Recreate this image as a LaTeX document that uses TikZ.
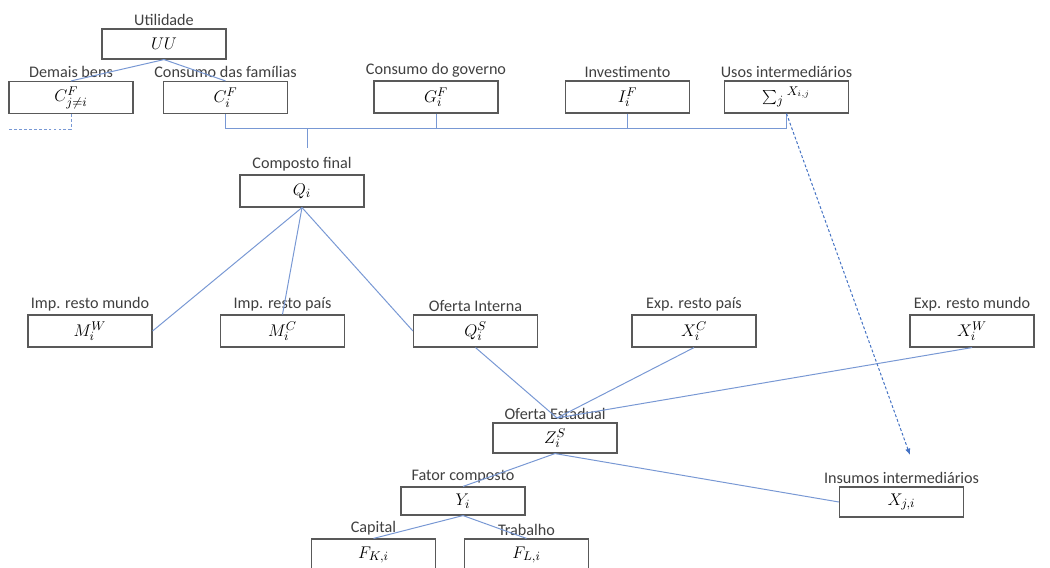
\documentclass[tikz,border=0pt]{standalone}
\usepackage{fontspec}
\setmainfont{Carlito}
\usetikzlibrary{arrows.meta}
\definecolor{linkblue}{RGB}{120,152,212}
\definecolor{dashblue}{RGB}{68,114,196}
\definecolor{boxgray}{RGB}{89,89,89}
\tikzset{%
  >={Latex[width=1.3mm,length=1.6mm]},
  % Specifications for style of nodes:
          varbox/.style = {rectangle, draw=boxgray, line width=0.8pt,
                           minimum width=3.1cm, minimum height=0.8cm,
                           inner sep=0pt, text centered,
                           font=\fontsize{13}{15}\selectfont},
         caption/.style = {font=\fontsize{11.5}{13}\selectfont,
                           text=black!75, inner sep=1pt},
            link/.style = {draw=linkblue, line width=0.7pt},
        dashlink/.style = {link, dash pattern=on 2pt off 1.5pt},
}

\begin{document}
\begin{tikzpicture}[x=0.025cm, y=-0.025cm, label distance=1pt,
    every label/.style={caption}]
  \useasboundingbox[fill=white] (0,0) rectangle (1050,567);
  \clip (0,0) rectangle (1050,567);
  % Specification of nodes (position, etc.)
  \node (uu)  [varbox, minimum height=0.75cm, label=above:Utilidade] at (164,44) {$UU$};
  \node (cj)  [varbox, label=above:Demais bens]          at (71,97.5)   {$C_{j\neq i}^F$};
  \node (ci)  [varbox, label=above:Consumo das famílias] at (225.5,97.5) {$C_i^F$};
  \node (gov) [varbox, label=above:Consumo do governo]   at (436,97)    {$G_i^F$};
  \node (inv) [varbox, label=above:Investimento]         at (627.5,97)  {$I_i^F$};
  \node (usos)[varbox, label=above:Usos intermediários]  at (786.5,97)  {$\sum_j{}^{X_{i,j}}$};
  \node (q)   [varbox, label=above:Composto final]       at (302,191)   {$Q_i$};
  \node (mw)  [varbox, label=above:Imp. resto mundo]     at (90,331)    {$M_i^W$};
  \node (mc)  [varbox, label=above:Imp. resto país]      at (282.5,331) {$M_i^C$};
  \node (qs)  [varbox, label=above:Oferta Interna]       at (475.5,331) {$Q_i^S$};
  \node (xc)  [varbox, label=above:Exp. resto país]      at (694,331)   {$X_i^C$};
  \node (xw)  [varbox, label=above:Exp. resto mundo]     at (972,331)   {$X_i^W$};
  \node (zs)  [varbox, minimum height=0.75cm, label=above:Oferta Estadual] at (555,438) {$Z_i^S$};
  \node (y)   [varbox, minimum height=0.7cm, label=above:Fator composto]   at (463,501) {$Y_i$};
  \node (xji) [varbox, minimum height=0.75cm,
               label=above:Insumos intermediários]       at (901.5,502) {$X_{j,i}$};
  \node (fk)  [varbox, label=above:Capital]              at (373.5,555) {$F_{K,i}$};
  \node (fl)  [varbox, label=above:Trabalho]             at (526.5,555) {$F_{L,i}$};
  % free ends of the connectors
  \coordinate (bus)   at (0,128);
  \coordinate (qtop)  at (307,148);
  \coordinate (other) at (8,129);
  \coordinate (zjoin) at (557,418);
  \coordinate (tip)   at (910,455);
  % Specification of lines between nodes specified above
  \draw[link] (uu.south) -- (cj.north);
  \draw[link] (uu.south) -- (ci.north);
  \draw[dashlink] (cj.south) |- (other);
  \draw[link] (ci.south) |- (usos.south |- bus) -- (usos.south);
  \draw[link] (gov.south) -- (gov.south |- bus);
  \draw[link] (inv.south) -- (inv.south |- bus);
  \draw[link] (qtop |- bus) -- (qtop);
  \draw[link] (q.south) -- (mw.east);
  \draw[link] (q.south) -- (mc.north);
  \draw[link] (q.south) -- (qs.west);
  \draw[link] (qs.south) -- (zjoin);
  \draw[link] (xc.south) -- (zjoin);
  \draw[link] (xw.south) -- (zjoin);
  \draw[link] (zs.south) -- (y.north);
  \draw[link] (zs.south) -- (xji.west);
  \draw[link] (y.south) -- (fk.north);
  \draw[link] (y.south) -- (fl.north);
  \draw[dashlink, draw=dashblue, ->] (usos.south) -- (tip);
\end{tikzpicture}
\end{document}
